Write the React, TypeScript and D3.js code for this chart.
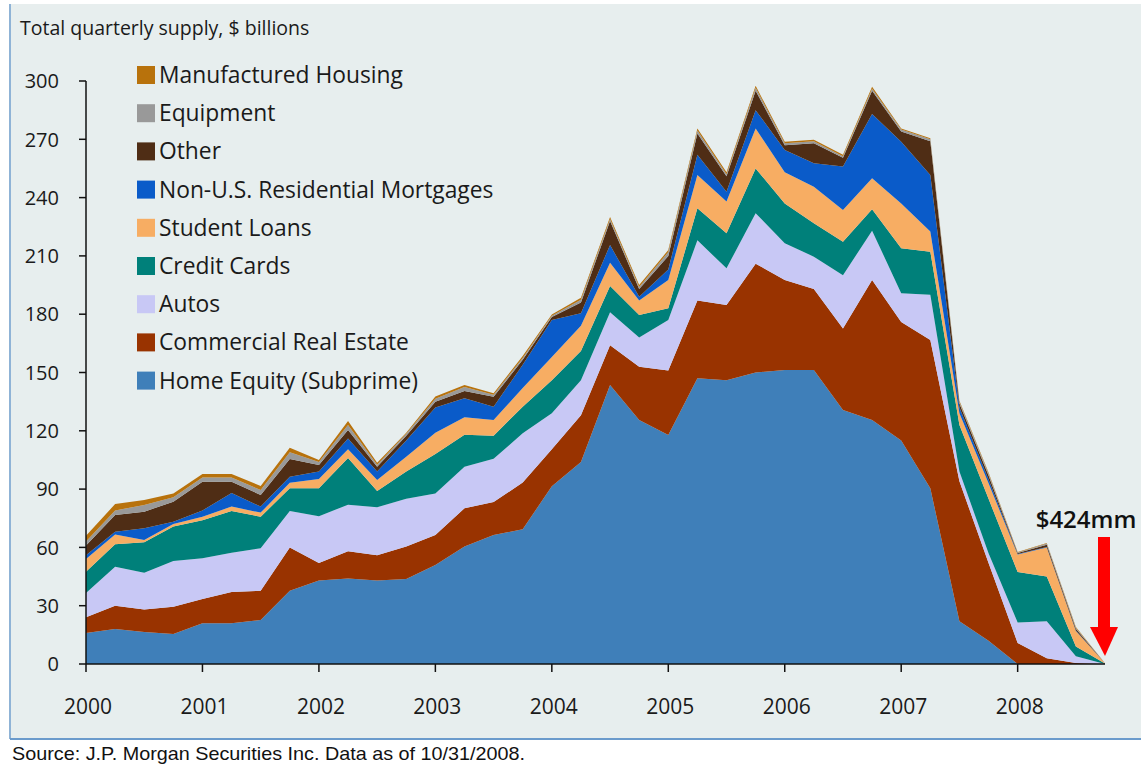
import * as d3 from "d3";

// quarterly supply, $ billions
const quarters = [
  "2000Q1", "2000Q2", "2000Q3", "2000Q4", "2001Q1", "2001Q2", "2001Q3", "2001Q4",
  "2002Q1", "2002Q2", "2002Q3", "2002Q4", "2003Q1", "2003Q2", "2003Q3", "2003Q4",
  "2004Q1", "2004Q2", "2004Q3", "2004Q4", "2005Q1", "2005Q2", "2005Q3", "2005Q4",
  "2006Q1", "2006Q2", "2006Q3", "2006Q4", "2007Q1", "2007Q2", "2007Q3", "2007Q4",
  "2008Q1", "2008Q2", "2008Q3", "2008Q4",
];

const homeEquity = [16, 18, 16.5, 15.5, 21, 21, 22.6, 37.7, 43, 44, 43, 43.8, 51, 60.4, 66.4, 69.3, 91.5, 104, 143.6, 125.6, 117.8, 147, 146, 150, 151.3, 151.3, 130.7, 125.6, 115, 90.4, 22, 12, 0, 0, 0, 0];
const commercialRE = [8, 12, 11.5, 14, 12.5, 16, 15.1, 22.3, 9, 14, 13, 16.6, 15.4, 19.8, 16.9, 24.1, 19, 24, 20.4, 27.4, 33.2, 40, 38.7, 56, 46.3, 41.7, 42, 72, 61, 76.3, 72, 40, 10.8, 3, 0.5, 0];
const autos = [12.5, 20, 19, 23.5, 20.9, 20.3, 21.8, 18.7, 24, 24, 24.6, 24.6, 21.4, 21.3, 22.3, 25.3, 18.5, 18, 17, 15, 26, 31, 18.9, 26, 18.9, 16.6, 27.3, 25.4, 14.8, 23.3, 5, 5, 10.5, 19, 3.5, 0];
const creditCards = [11, 11.6, 15.6, 17.7, 19.6, 21.4, 16.3, 11.7, 14.4, 24, 8.4, 14, 20.2, 16.5, 11.9, 13.7, 17, 15, 13.5, 11.6, 6, 16.5, 18, 23, 20.5, 17.2, 17.3, 11, 23.2, 22.2, 24, 28, 26, 23, 5, 0.2];
const studentLoans = [6.5, 5.1, 1.2, 1.3, 1.8, 2.3, 2.1, 2.9, 4.8, 4.5, 5.7, 7.7, 11, 9, 8.1, 9.6, 12, 13, 12, 7.4, 14.6, 17.1, 16.4, 20.6, 16, 18.8, 16.3, 16, 23, 10.3, 6, 8, 9, 15, 8, 0.2];
const nonUSResidential = [2, 1.3, 6, 1.2, 3.2, 7, 3.1, 3.1, 3.8, 5.5, 4.3, 8.3, 13, 9.7, 6.8, 12, 19, 6.5, 9.1, 2, 5.4, 10.4, 5, 9.4, 11.5, 12.1, 22.4, 33, 31.8, 29.1, 3, 2, 0.3, 0.2, 0.2, 0];
const other = [5, 8.7, 8.6, 10.3, 14.8, 5.8, 6, 9.1, 3.4, 4.4, 2.5, 2.5, 3, 3.8, 5.1, 2.5, 1.6, 5.5, 12.4, 4, 7, 11, 8, 10, 2.5, 10.3, 4.5, 12, 5.2, 17.4, 2, 2, 0.5, 1.2, 1, 0];
const equipment = [2, 2.3, 3.4, 2.3, 2.2, 2.2, 2.5, 3.5, 1.6, 2.6, 1, 1, 1.5, 2, 1, 1, 0.6, 1.5, 1, 1, 2, 1.5, 1, 1.5, 1, 1, 0.8, 1, 1, 1, 1, 1, 0.3, 0.6, 0.5, 0];
const manufacturedHousing = [3, 3.3, 2.6, 2, 1.8, 1.8, 2.1, 2.3, 1, 2, 1, 0.5, 1.1, 1.1, 0.8, 1, 0.6, 1, 1, 1, 1, 1.1, 1, 1, 0.8, 0.8, 0.7, 1, 0.6, 0.5, 0.5, 0.5, 0.2, 0.3, 0.3, 0];

const yearLabels = ["2000", "2001", "2002", "2003", "2004", "2005", "2006", "2007", "2008"];
const yTicks = [0, 30, 60, 90, 120, 150, 180, 210, 240, 270, 300];

// bottom to top
const series = [
  { key: "he", name: "Home Equity (Subprime)", values: homeEquity, color: "#3f7fb9" },
  { key: "cre", name: "Commercial Real Estate", values: commercialRE, color: "#993300" },
  { key: "auto", name: "Autos", values: autos, color: "#c8c8f5" },
  { key: "cc", name: "Credit Cards", values: creditCards, color: "#00807a" },
  { key: "sl", name: "Student Loans", values: studentLoans, color: "#f7ad63" },
  { key: "nonus", name: "Non-U.S. Residential Mortgages", values: nonUSResidential, color: "#0a5bc9" },
  { key: "other", name: "Other", values: other, color: "#4f2d15" },
  { key: "equip", name: "Equipment", values: equipment, color: "#999999" },
  { key: "mh", name: "Manufactured Housing", values: manufacturedHousing, color: "#b8720c" },
];

const FONT = "'Open Sans', 'Noto Sans', sans-serif";
const INK = "#1a1a1a";

function qToYear(q: string) {
  return +q.slice(0, 4) + (+q.slice(5) - 1) / 4;
}

export default function App() {
  const width = 1141;
  const height = 769;

  const x = d3.scaleLinear().domain([2000, 2008.75]).range([86, 1105]);
  const y = d3.scaleLinear().domain([0, 300]).range([664, 81]);

  const rows = quarters.map((q, i) => {
    const r: any = { t: qToYear(q) };
    series.forEach((s) => (r[s.key] = s.values[i]));
    return r;
  });

  const stacked = d3.stack().keys(series.map((s) => s.key))(rows);

  const area = d3
    .area<any>()
    .x((d) => x(d.data.t))
    .y0((d) => y(d[0]))
    .y1((d) => y(d[1]));

  const legend = series.slice().reverse();
  const endX = x(qToYear(quarters[quarters.length - 1]));

  return (
    <div style={{ position: "absolute", left: 0, top: 0 }}>
      <svg width={width} height={height} style={{ display: "block" }}>
        <rect x={0} y={0} width={width} height={height} fill="#ffffff" />
        <rect x={10} y={4} width={width - 10} height={735} fill="#e7eeee" />
        <line x1={10} x2={10} y1={4} y2={739} stroke="#8fb3d6" strokeWidth={2} />
        <line x1={10} x2={width} y1={739} y2={739} stroke="#6b9bcc" strokeWidth={2} />

        <text x={20} y={35} fontFamily={FONT} fontSize={19.5} fill={INK}>
          Total quarterly supply, $ billions
        </text>

        {stacked.map((layer, i) => (
          <path key={series[i].key} d={area(layer as any) || ""} fill={series[i].color} />
        ))}

        {/* y axis */}
        <line x1={86} x2={86} y1={y(300)} y2={y(0)} stroke="#111" strokeWidth={1.5} />
        {yTicks.map((t) => (
          <g key={t}>
            <line x1={79} x2={86} y1={y(t)} y2={y(t)} stroke="#111" strokeWidth={1.5} />
            <text
              x={59}
              y={y(t)}
              dy="0.36em"
              textAnchor="end"
              fontFamily={FONT}
              fontSize={20}
              fill={INK}
            >
              {t}
            </text>
          </g>
        ))}

        {/* x axis */}
        <line x1={86} x2={endX} y1={y(0)} y2={y(0)} stroke="#111" strokeWidth={1.5} />
        {yearLabels.map((yr) => (
          <g key={yr}>
            <line x1={x(+yr)} x2={x(+yr)} y1={y(0)} y2={y(0) + 8} stroke="#111" strokeWidth={1.5} />
            <text
              x={x(+yr) + 2}
              y={714}
              textAnchor="middle"
              fontFamily={FONT}
              fontSize={21}
              fill={INK}
            >
              {yr}
            </text>
          </g>
        ))}

        {/* legend */}
        {legend.map((s, i) => {
          const cy = 75 + i * 38.2;
          return (
            <g key={s.key}>
              <rect x={137} y={cy - 9} width={18} height={18} fill={s.color} />
              <text x={159} y={cy + 8} fontFamily={FONT} fontSize={22.8} fill={INK}>
                {s.name}
              </text>
            </g>
          );
        })}

        {/* annotation */}
        <text
          x={1086}
          y={528}
          textAnchor="middle"
          fontFamily={FONT}
          fontSize={24}
          fontWeight={600}
          fill="#111"
        >
          $424mm
        </text>
        <rect x={1098} y={537} width={12} height={92} fill="#ff0000" />
        <path d={`M1090,627 L1118,627 L${endX},656 Z`} fill="#ff0000" />

        <text
          x={12}
          y={760}
          fontFamily="'Liberation Sans', Arial, sans-serif"
          fontSize={18.5}
          fill="#111"
          textLength={513}
          lengthAdjust="spacingAndGlyphs"
        >
          Source: J.P. Morgan Securities Inc. Data as of 10/31/2008.
        </text>
      </svg>
    </div>
  );
}
